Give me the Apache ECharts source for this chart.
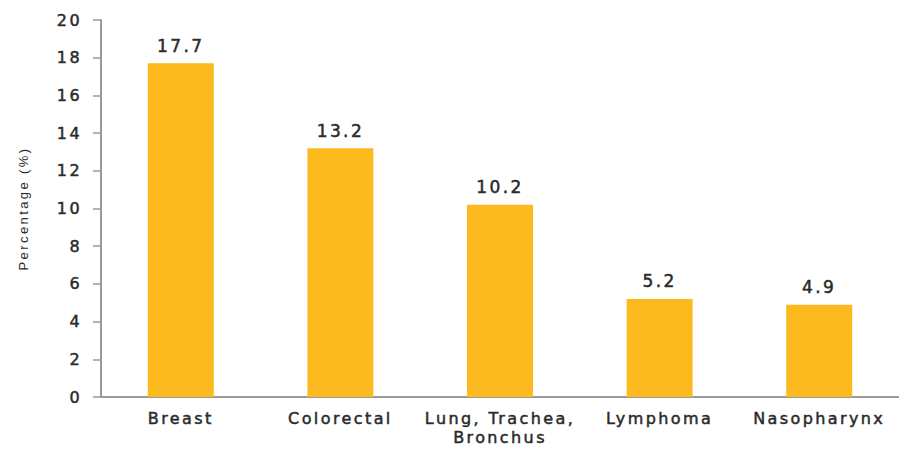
<!DOCTYPE html>
<html>
<head>
<meta charset="utf-8">
<script src="https://cdn.jsdelivr.net/npm/echarts@6/dist/echarts.min.js"></script>
<style>
  html, body { margin: 0; padding: 0; background: #fff; }
  #chart { width: 899px; height: 454px; }
  /* wide, airy lettering for every label */
  #chart svg text { letter-spacing: 2.4px; }
</style>
</head>
<body>
<div id="chart"></div>
<script>
// Cancer sites and their share of cases (%)
const categories = ['Breast', 'Colorectal', 'Lung, Trachea,\nBronchus', 'Lymphoma', 'Nasopharynx'];
const percentages = [17.7, 13.2, 10.2, 5.2, 4.9];
const yTicks = { min: 0, max: 20, interval: 2 };

const TEXT = '#2b2b2b';
// thin outline in the text colour gives the labels a slightly heavier stroke
const heavy = { textBorderColor: TEXT, textBorderWidth: 0.5 };

const chart = echarts.init(document.getElementById('chart'), null, { renderer: 'svg' });
chart.setOption({
  animation: false,
  grid: { left: 101, right: 0, top: 20, bottom: 57, containLabel: false },
  xAxis: {
    type: 'category',
    data: categories,
    axisLine: { lineStyle: { color: '#9a9a9a', width: 2 } },
    axisTick: { show: false },
    axisLabel: Object.assign({
      color: TEXT,
      fontFamily: 'DejaVu Sans, sans-serif',
      fontSize: 16,
      margin: 12,
      lineHeight: 19
    }, heavy)
  },
  yAxis: {
    type: 'value',
    min: yTicks.min,
    max: yTicks.max,
    interval: yTicks.interval,
    name: 'Percentage (%)',
    nameLocation: 'middle',
    nameGap: 71,
    nameTextStyle: {
      color: TEXT,
      fontFamily: 'Liberation Sans, Arial, sans-serif',
      fontSize: 13
    },
    splitLine: { show: false },
    axisLine: { show: true, lineStyle: { color: '#9a9a9a', width: 2 } },
    axisTick: { show: true, length: 8, lineStyle: { color: '#9a9a9a', width: 1.5 } },
    axisLabel: Object.assign({
      color: TEXT,
      fontFamily: 'DejaVu Sans, sans-serif',
      fontSize: 16,
      margin: 19
    }, heavy)
  },
  series: [{
    type: 'bar',
    data: percentages,
    barWidth: 66,
    itemStyle: { color: '#FCBA1E' },
    label: Object.assign({
      show: true,
      position: 'top',
      distance: 9,
      color: TEXT,
      fontFamily: 'DejaVu Sans, sans-serif',
      fontSize: 17,
      formatter: p => p.value.toFixed(1)
    }, heavy)
  }]
});
</script>
</body>
</html>
